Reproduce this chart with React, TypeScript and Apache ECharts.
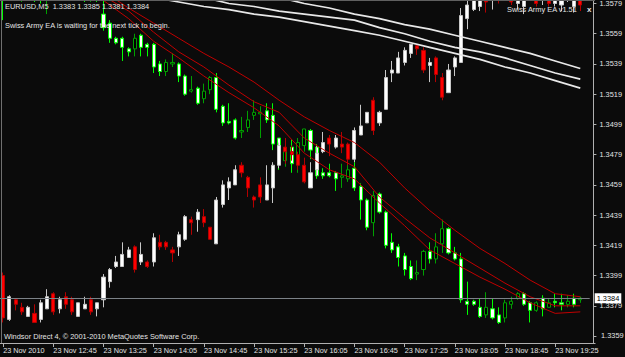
import React, { useEffect, useRef } from 'react';
import * as echarts from 'echarts';

// 5-minute bars, 23 Nov 2010
const times = [
  '12:05','12:10','12:15','12:20','12:25','12:30','12:35','12:40','12:45','12:50','12:55',
  '13:00','13:05','13:10','13:15','13:20','13:25','13:30','13:35','13:40','13:45','13:50','13:55',
  '14:00','14:05','14:10','14:15','14:20','14:25','14:30','14:35','14:40','14:45','14:50','14:55',
  '15:00','15:05','15:10','15:15','15:20','15:25','15:30','15:35','15:40','15:45','15:50','15:55',
  '16:00','16:05','16:10','16:15','16:20','16:25','16:30','16:35','16:40','16:45','16:50','16:55',
  '17:00','17:05','17:10','17:15','17:20','17:25','17:30','17:35','17:40','17:45','17:50','17:55',
  '18:00','18:05','18:10','18:15','18:20','18:25','18:30','18:35','18:40','18:45','18:50','18:55',
  '19:00','19:05','19:10','19:15','19:20','19:25','19:30','19:35','19:40','19:45','19:50',
];

const priceTicks = [1.3359, 1.3379, 1.3399, 1.3419, 1.3439, 1.3459, 1.3479, 1.3499, 1.3519, 1.3539, 1.3559, 1.3579];

// EURUSD M5 candles: [open, close, low, high]
const euCandles = [
  [1.3587,1.3583,1.3568,1.3589],[1.3589,1.3594,1.3583,1.3597],[1.3594,1.3591,1.3585,1.3598],[1.3591,1.3595,1.3580,1.3599],
  [1.3595,1.3592,1.3587,1.3599],[1.3592,1.3588,1.3580,1.3595],[1.3588,1.3585,1.3579,1.3591],[1.3585,1.3587,1.3572,1.3590],
  [1.3587,1.3590,1.3583,1.3593],[1.3590,1.3588,1.3584,1.3594],[1.3588,1.3591,1.3585,1.3595],[1.3591,1.3589,1.3584,1.3594],
  [1.3589,1.3586,1.3582,1.3592],[1.3586,1.3584,1.3580,1.3589],[1.3584,1.3586,1.3580,1.3588],[1.3586,1.3581,1.3580,1.3587],
  [1.3572,1.3563,1.3561,1.3581],[1.3566,1.3556,1.3553,1.3568],[1.3556,1.3553,1.3552,1.3557],[1.3556,1.3550,1.3541,1.3557],
  [1.3549,1.3547,1.3544,1.3550],[1.3549,1.3556,1.3544,1.3559],[1.3558,1.3550,1.3544,1.3559],[1.3552,1.3550,1.3544,1.3553],
  [1.3552,1.3537,1.3533,1.3553],[1.3539,1.3534,1.3531,1.3541],[1.3534,1.3540,1.3531,1.3542],[1.3539,1.3540,1.3537,1.3546],
  [1.3539,1.3531,1.3527,1.3540],[1.3531,1.3519,1.3518,1.3532],[1.3521,1.3522,1.3520,1.3531],[1.3523,1.3513,1.3512,1.3524],
  [1.3516,1.3521,1.3513,1.3526],[1.3522,1.3530,1.3519,1.3531],[1.3530,1.3509,1.3507,1.3533],[1.3511,1.3500,1.3498,1.3512],
  [1.3501,1.3500,1.3499,1.3513],[1.3502,1.3490,1.3489,1.3503],[1.3494,1.3495,1.3490,1.3504],[1.3497,1.3502,1.3494,1.3508],
  [1.3505,1.3507,1.3502,1.3515],[1.3506,1.3507,1.3490,1.3511],[1.3508,1.3502,1.3500,1.3513],[1.3505,1.3486,1.3482,1.3513],
  [1.3490,1.3476,1.3469,1.3490],[1.3475,1.3481,1.3471,1.3490],[1.3484,1.3473,1.3467,1.3489],[1.3474,1.3487,1.3467,1.3490],
  [1.3485,1.3496,1.3481,1.3496],[1.3495,1.3482,1.3476,1.3496],[1.3484,1.3465,1.3463,1.3486],[1.3467,1.3465,1.3463,1.3470],
  [1.3467,1.3465,1.3464,1.3473],[1.3467,1.3463,1.3455,1.3468],[1.3464,1.3465,1.3457,1.3473],[1.3463,1.3469,1.3461,1.3476],
  [1.3470,1.3457,1.3455,1.3474],[1.3458,1.3449,1.3436,1.3460],[1.3449,1.3431,1.3429,1.3450],[1.3434,1.3452,1.3425,1.3455],
  [1.3453,1.3441,1.3440,1.3454],[1.3441,1.3419,1.3417,1.3442],[1.3421,1.3416,1.3414,1.3427],[1.3418,1.3411,1.3405,1.3420],
  [1.3412,1.3403,1.3399,1.3414],[1.3405,1.3397,1.3396,1.3409],[1.3400,1.3401,1.3396,1.3409],[1.3403,1.3415,1.3399,1.3416],
  [1.3415,1.3410,1.3407,1.3421],[1.3410,1.3418,1.3407,1.3427],[1.3420,1.3430,1.3414,1.3436],[1.3430,1.3414,1.3413,1.3431],
  [1.3414,1.3410,1.3409,1.3418],[1.3410,1.3383,1.3381,1.3414],[1.3382,1.3380,1.3373,1.3395],[1.3382,1.3380,1.3379,1.3383],
  [1.3378,1.3372,1.3371,1.3384],[1.3373,1.3378,1.3371,1.3388],[1.3377,1.3371,1.3370,1.3384],[1.3373,1.3368,1.3367,1.3378],
  [1.3371,1.3381,1.3368,1.3383],[1.3380,1.3382,1.3377,1.3385],[1.3384,1.3387,1.3383,1.3388],[1.3387,1.3380,1.3379,1.3388],
  [1.3381,1.3376,1.3368,1.3382],[1.3376,1.3381,1.3375,1.3382],[1.3384,1.3377,1.3372,1.3386],[1.3378,1.3381,1.3378,1.3384],
  [1.3382,1.3381,1.3378,1.3387],[1.3381,1.3380,1.3376,1.3387],[1.3380,1.3382,1.3378,1.3386],[1.3384,1.3380,1.3378,1.3387],
  [1.3383,1.3384,1.3381,1.3385],
];

// Overlay series drawn by the EA (white up / red down): [open, close, low, high]
const ovCandles = [
  [1.3399,1.3371,1.3368,1.3401],[1.3370,1.3385,1.3369,1.3386],[1.3383,1.3380,1.3376,1.3384],[1.3378,1.3375,1.3373,1.3381],
  [1.3372,1.3378,1.3372,1.3379],[1.3374,1.3368,1.3368,1.3380],[1.3370,1.3381,1.3368,1.3383],[1.3377,1.3385,1.3377,1.3390],
  [1.3387,1.3375,1.3373,1.3388],[1.3377,1.3383,1.3374,1.3385],[1.3385,1.3380,1.3377,1.3388],[1.3383,1.3375,1.3373,1.3385],
  [1.3372,1.3381,1.3372,1.3381],[1.3377,1.3380,1.3377,1.3385],[1.3383,1.3375,1.3373,1.3385],[1.3377,1.3381,1.3372,1.3381],
  [1.3383,1.3398,1.3378,1.3400],[1.3395,1.3403,1.3391,1.3404],[1.3405,1.3408,1.3404,1.3412],[1.3405,1.3413,1.3405,1.3421],
  [1.3411,1.3416,1.3411,1.3418],[1.3418,1.3403,1.3401,1.3419],[1.3408,1.3413,1.3406,1.3421],[1.3408,1.3405,1.3404,1.3409],
  [1.3408,1.3424,1.3405,1.3427],[1.3421,1.3418,1.3416,1.3426],[1.3421,1.3418,1.3416,1.3422],[1.3416,1.3414,1.3408,1.3418],
  [1.3418,1.3426,1.3412,1.3428],[1.3423,1.3438,1.3422,1.3439],[1.3436,1.3434,1.3426,1.3438],[1.3436,1.3441,1.3428,1.3443],
  [1.3438,1.3434,1.3431,1.3443],[1.3431,1.3423,1.3423,1.3431],[1.3420,1.3449,1.3420,1.3451],[1.3446,1.3459,1.3444,1.3462],
  [1.3457,1.3461,1.3449,1.3464],[1.3459,1.3469,1.3459,1.3472],[1.3472,1.3467,1.3464,1.3474],[1.3464,1.3457,1.3451,1.3465],
  [1.3451,1.3449,1.3444,1.3452],[1.3459,1.3451,1.3447,1.3464],[1.3449,1.3459,1.3449,1.3472],[1.3457,1.3472,1.3447,1.3474],
  [1.3472,1.3485,1.3470,1.3487],[1.3484,1.3481,1.3473,1.3490],[1.3481,1.3479,1.3475,1.3485],[1.3479,1.3472,1.3469,1.3481],
  [1.3472,1.3461,1.3460,1.3477],[1.3457,1.3467,1.3457,1.3474],[1.3469,1.3480,1.3465,1.3485],[1.3481,1.3487,1.3480,1.3494],
  [1.3490,1.3486,1.3478,1.3492],[1.3484,1.3490,1.3483,1.3492],[1.3486,1.3484,1.3480,1.3494],[1.3486,1.3476,1.3472,1.3487],
  [1.3476,1.3495,1.3474,1.3497],[1.3492,1.3498,1.3492,1.3512],[1.3500,1.3507,1.3500,1.3507],[1.3515,1.3495,1.3492,1.3517],
  [1.3500,1.3507,1.3498,1.3508],[1.3509,1.3530,1.3509,1.3535],[1.3533,1.3535,1.3527,1.3541],[1.3533,1.3543,1.3533,1.3547],
  [1.3540,1.3548,1.3538,1.3550],[1.3546,1.3552,1.3543,1.3552],[1.3551,1.3549,1.3545,1.3552],[1.3548,1.3535,1.3533,1.3550],
  [1.3538,1.3540,1.3527,1.3543],[1.3543,1.3532,1.3527,1.3544],[1.3530,1.3517,1.3515,1.3533],[1.3520,1.3535,1.3520,1.3539],
  [1.3537,1.3543,1.3531,1.3544],[1.3540,1.3571,1.3540,1.3576],[1.3569,1.3578,1.3562,1.3581],[1.3575,1.3581,1.3574,1.3585],
  [1.3577,1.3583,1.3574,1.3586],[1.3584,1.3580,1.3573,1.3586],[1.3581,1.3585,1.3575,1.3588],[1.3586,1.3583,1.3579,1.3589],
  [1.3584,1.3588,1.3581,1.3590],[1.3587,1.3580,1.3578,1.3589],[1.3579,1.3585,1.3575,1.3587],[1.3577,1.3586,1.3572,1.3588],
  [1.3585,1.3587,1.3581,1.3590],[1.3587,1.3579,1.3577,1.3589],[1.3581,1.3585,1.3578,1.3587],[1.3585,1.3579,1.3577,1.3587],
  [1.3579,1.3584,1.3577,1.3587],[1.3578,1.3583,1.3574,1.3585],[1.3583,1.3587,1.3580,1.3589],[1.3577,1.3583,1.3573,1.3585],
  [1.3583,1.3578,1.3574,1.3585],
];

// Red moving-average lines on EURUSD: [bar index, price]
const maRedUpper = [[12,1.3599],[16,1.3587],[20,1.3576],[24,1.3566],[28,1.3556],[32,1.3546],[36,1.3537],[40,1.3527],[44,1.3515],[48,1.3504],[52,1.3495],[56,1.3487],[60,1.3474],[64,1.3457],[68,1.3442],[72,1.3429],[76,1.3417],[80,1.3407],[84,1.3396],[88,1.3387],[92,1.3385]];
const maRedMid = [[12,1.3595],[16,1.3584],[20,1.3574],[24,1.3560],[28,1.3547],[32,1.3537],[36,1.3525],[40,1.3514],[44,1.3507],[48,1.3490],[52,1.3480],[56,1.3471],[60,1.3451],[64,1.3437],[68,1.3424],[72,1.3414],[76,1.3404],[80,1.3394],[84,1.3385],[88,1.3379],[92,1.3379]];
const maRedLower = [[12,1.3593],[16,1.3581],[20,1.3569],[24,1.3554],[28,1.3543],[32,1.3531],[36,1.3520],[40,1.3510],[44,1.3498],[48,1.3480],[52,1.3469],[56,1.3463],[60,1.3447],[64,1.3432],[68,1.3416],[72,1.3407],[76,1.3398],[80,1.3390],[84,1.3381],[88,1.3374],[92,1.3375]];

// White moving-average lines of the overlay: [bar index, price]
const maWhite1 = [[40,1.3587],[44,1.3583],[48,1.3579],[52,1.3576],[56,1.3572],[60,1.3569],[64,1.3565],[68,1.3562],[72,1.3558],[76,1.3554],[80,1.3550],[84,1.3546],[88,1.3541],[92,1.3536]];
const maWhite2 = [[32,1.3583],[36,1.3579],[40,1.3577],[44,1.3574],[48,1.3572],[52,1.3570],[56,1.3568],[60,1.3563],[64,1.3559],[68,1.3554],[72,1.3550],[76,1.3547],[80,1.3543],[84,1.3538],[88,1.3533],[92,1.3529]];
const maWhite3 = [[24,1.3583],[28,1.3580],[32,1.3577],[36,1.3575],[40,1.3572],[44,1.3570],[48,1.3567],[52,1.3564],[56,1.3561],[60,1.3558],[64,1.3554],[68,1.3550],[72,1.3546],[76,1.3542],[80,1.3537],[84,1.3533],[88,1.3528],[92,1.3523]];

const bidPrice = 1.3384;

const FONT = 'Liberation Sans, Arial, sans-serif';
const TXT = '#e4e4e4';
const AXIS_X = 595; // right price scale line
const Y_MIN = 1.33544;
const Y_MAX = 1.3581;
const PLOT_H = 343;

export default function App() {
  const ref = useRef<HTMLDivElement>(null);
  useEffect(() => {
    document.body.style.margin = '0';
    document.body.style.background = '#0b0b0b';
    const chart = echarts.init(ref.current!, null, { renderer: 'svg' });
    const last = euCandles[euCandles.length - 1];
    const f4 = (v: number) => v.toFixed(4);
    const header = `EURUSD,M5  ${f4(last[0])} ${f4(last[3])} ${f4(last[2])} ${f4(last[1])}`;
    const redLine = (data: number[][]) => ({
      type: 'line', data, symbol: 'none', showSymbol: false, clip: true, z: 4,
      lineStyle: { color: '#c00000', width: 1 },
    });
    const whiteLine = (data: number[][]) => ({
      type: 'line', data, symbol: 'none', showSymbol: false, clip: true, z: 4,
      lineStyle: { color: '#e8e8e8', width: 1.7 },
    });
    chart.setOption({
      animation: false,
      backgroundColor: '#0b0b0b',
      textStyle: { fontFamily: FONT },
      grid: { left: 0, top: 0, width: 591.3, height: PLOT_H },
      xAxis: {
        type: 'category',
        data: times,
        boundaryGap: true,
        axisLine: { show: false },
        axisTick: { show: true, interval: 7, alignWithLabel: true, length: 4, lineStyle: { color: '#b0b0b0' } },
        axisLabel: {
          interval: 7, align: 'left', margin: 4, color: TXT, fontSize: 7.3, fontFamily: FONT,
          formatter: (v: string, i: number) => (i === 0 ? '23 Nov 2010' : '23 Nov ' + v),
        },
        splitLine: { show: false },
      },
      yAxis: [
        {
          type: 'value', position: 'right', offset: AXIS_X - 591.3, min: Y_MIN, max: Y_MAX,
          axisLine: { show: true, lineStyle: { color: '#b0b0b0' } },
          axisTick: { show: true, length: 3, customValues: priceTicks, lineStyle: { color: '#b0b0b0' } },
          axisLabel: {
            customValues: priceTicks.slice(1), showMaxLabel: true,
            formatter: (v: number) => v.toFixed(4), color: TXT, fontSize: 7.4, margin: 6, fontFamily: FONT,
          },
          splitLine: { show: false },
        },
      ],
      graphic: [
        { type: 'line', shape: { x1: 1.5, y1: 0, x2: 1.5, y2: PLOT_H }, style: { stroke: '#707070', lineWidth: 1 }, z: 50 },
        { type: 'line', shape: { x1: 0, y1: 0.5, x2: AXIS_X, y2: 0.5 }, style: { stroke: '#606060', lineWidth: 1 }, z: 50 },
        { type: 'line', shape: { x1: 0, y1: PLOT_H + 0.5, x2: AXIS_X + 0.5, y2: PLOT_H + 0.5 }, style: { stroke: '#b0b0b0', lineWidth: 1 }, z: 50 },
        { type: 'text', x: 5, y: 3, z: 100, style: { text: header, fill: TXT, fontSize: 7.4, fontFamily: FONT } },
        { type: 'text', x: 5, y: 21.5, z: 100, style: { text: 'Swiss Army EA is waiting for the next tick to begin.', fill: TXT, fontSize: 7.4, fontFamily: FONT } },
        { type: 'text', x: 4, y: 333, z: 100, style: { text: 'Windsor Direct 4, \u00a9 2001-2010 MetaQuotes Software Corp.', fill: TXT, fontSize: 7.4, fontFamily: FONT } },
        { type: 'text', x: 507, y: 6, z: 100, style: { text: 'Swiss Army EA v1.51', fill: TXT, fontSize: 7.4, fontFamily: FONT } },
        { type: 'text', x: 587, y: 5.5, z: 100, style: { text: 'x', fill: TXT, fontSize: 8, fontWeight: 'bold', fontFamily: FONT } },
        // lowest price label, positioned on the price scale
        { type: 'text', x: AXIS_X + 6, y: (Y_MAX - priceTicks[0]) / (Y_MAX - Y_MIN) * PLOT_H - 4.3, z: 100,
          style: { text: priceTicks[0].toFixed(4), fill: TXT, fontSize: 7.4, fontFamily: FONT } },
      ],
      series: [
        {
          type: 'candlestick', name: 'EURUSD', data: euCandles, barWidth: 3.6, clip: true, z: 2,
          itemStyle: { color: '#000000', color0: '#ffffff', borderColor: '#00a000', borderColor0: '#00ff00', borderWidth: 1 },
        },
        {
          type: 'line', name: 'Bid', data: [], symbol: 'none', z: 1,
          markLine: {
            symbol: ['none', 'none'], silent: true, animation: false, precision: 4,
            lineStyle: { color: '#7c8288', type: 'solid', width: 1 },
            label: {
              show: true, position: 'end', distance: 5, formatter: () => bidPrice.toFixed(4),
              backgroundColor: '#ffffff', color: '#000000', fontSize: 7.4, fontFamily: FONT, padding: [2, 2, 1, 2],
            },
            data: [{ yAxis: bidPrice }],
          },
        },
        redLine(maRedUpper),
        redLine(maRedMid),
        redLine(maRedLower),
        {
          type: 'candlestick', name: 'Overlay', data: ovCandles, barWidth: 3.6, clip: true, z: 3,
          itemStyle: { color: '#ffffff', color0: '#ff0000', borderColor: '#c8c8c8', borderColor0: '#b40000', borderWidth: 1 },
        },
        whiteLine(maWhite1),
        whiteLine(maWhite2),
        whiteLine(maWhite3),
      ],
    });
    return () => chart.dispose();
  }, []);
  return <div ref={ref} style={{ width: 625, height: 357 }} />;
}
